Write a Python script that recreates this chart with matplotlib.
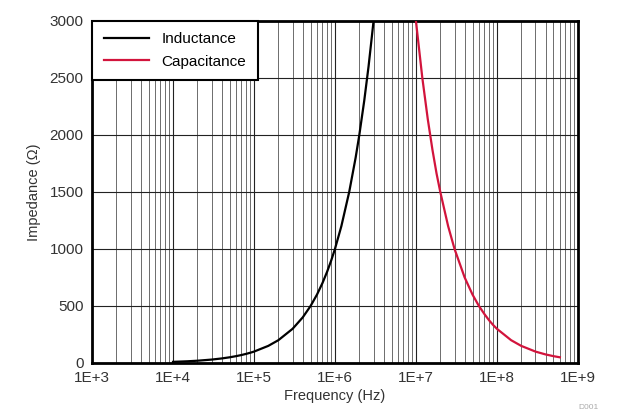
import matplotlib
matplotlib.use("Agg")
import matplotlib.pyplot as plt
from matplotlib.ticker import LogLocator, FixedLocator, NullFormatter

plt.rcParams['font.family'] = ['Liberation Sans', 'DejaVu Sans']

# Data
ind_freq = [1e4, 1.5e4, 2e4, 3e4, 4e4, 5e4, 6e4, 7e4, 8e4, 9e4,
            1e5, 1.5e5, 2e5, 3e5, 4e5, 5e5, 6e5, 7e5, 8e5, 9e5,
            1e6, 1.2e6, 1.5e6, 1.8e6, 2e6, 2.3e6, 2.6e6, 3.0e6]
ind_imp = [10, 15, 20, 30, 40, 50, 60, 70, 80, 90,
           100, 150, 200, 300, 400, 500, 600, 700, 800, 900,
           1000, 1200, 1500, 1800, 2000, 2300, 2600, 3000]

cap_freq = [1.0e7, 1.2e7, 1.4e7, 1.6e7, 1.8e7, 2e7, 2.5e7, 3e7, 4e7, 5e7,
            6e7, 7e7, 8e7, 9e7, 1e8, 1.5e8, 2e8, 3e8, 4e8, 5e8, 6e8]
cap_imp = [3000, 2500, 2140, 1870, 1660, 1500, 1200, 1000, 750, 600,
           500, 430, 375, 333, 300, 200, 150, 100, 75, 60, 50]

x_ticks = [1e3, 1e4, 1e5, 1e6, 1e7, 1e8, 1e9]
x_labels = ["1E+3", "1E+4", "1E+5", "1E+6", "1E+7", "1E+8", "1E+9"]
y_ticks = [0, 500, 1000, 1500, 2000, 2500, 3000]

fig = plt.figure(figsize=(6.18, 4.17), dpi=100)
ax = fig.add_axes([0.149, 0.1295, 0.786, 0.8205])

ax.plot(ind_freq, ind_imp, color='black', lw=1.6, label='Inductance', zorder=3)
ax.plot(cap_freq, cap_imp, color='#d2143c', lw=1.6, label='Capacitance', zorder=3)

ax.set_xscale('log')
ax.set_xlim(1e3, 1e9)
ax.set_ylim(0, 3000)
ax.xaxis.set_major_locator(FixedLocator(x_ticks))
ax.set_xticklabels(x_labels)
ax.xaxis.set_minor_locator(LogLocator(base=10, subs=[2, 3, 4, 5, 6, 7, 8, 9], numticks=20))
ax.xaxis.set_minor_formatter(NullFormatter())
ax.set_yticks(y_ticks)

ax.grid(which='major', axis='both', color='#222222', lw=0.8)
ax.grid(which='minor', axis='x', color='#555555', lw=0.6)
ax.tick_params(which='both', length=0, labelsize=11, colors='#333333', pad=6)

for s in ax.spines.values():
    s.set_linewidth(2)
    s.set_color('black')

ax.set_xlabel('Frequency (Hz)', fontsize=10.5, color='#333333', labelpad=3)
ax.set_ylabel('Impedance (\u03a9)', fontsize=10.5, color='#333333', labelpad=6)

leg = ax.legend(loc='upper left', fontsize=11, frameon=True, fancybox=False,
                borderaxespad=0, handlelength=3.0, borderpad=0.75, labelspacing=0.55,
                handletextpad=0.8)
leg.get_frame().set_edgecolor('black')
leg.get_frame().set_linewidth(1.5)
leg.get_frame().set_alpha(1)
leg.set_zorder(5)

fig.text(0.968, 0.015, 'D001', fontsize=6, color='#aaaaaa', ha='right', va='bottom')

fig.savefig('out.png', dpi=100)
